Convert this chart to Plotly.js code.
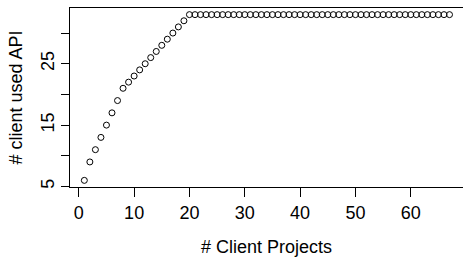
<!DOCTYPE html>
<html>
<head>
<meta charset="utf-8">
<script src="https://cdn.plot.ly/plotly-3.0.1.min.js"></script>
<style>html,body{margin:0;padding:0;background:#fff;}#chart{width:463px;height:260px;}</style>
</head>
<body>
<div id="chart"></div>
<script>
const clientProjects = [1,2,3,4,5,6,7,8,9,10,11,12,13,14,15,16,17,18,19,20,
  21,22,23,24,25,26,27,28,29,30,31,32,33,34,35,36,37,38,39,40,
  41,42,43,44,45,46,47,48,49,50,51,52,53,54,55,56,57,58,59,60,
  61,62,63,64,65,66,67];
const clientsUsedAPI = [6,9,11,13,15,17,19,21,22,23,24,25,26,27,28,29,30,31,32,33,
  33,33,33,33,33,33,33,33,33,33,33,33,33,33,33,33,33,33,33,33,
  33,33,33,33,33,33,33,33,33,33,33,33,33,33,33,33,33,33,33,33,
  33,33,33,33,33,33,33];
const xTickVals = [0,10,20,30,40,50,60];
const xTickText = ['0','10','20','30','40','50','60'];
const yTickVals = [5,10,15,20,25,30];
const yTickText = ['5','','15','','25',''];

const font = {family: 'Liberation Sans, Arial, Helvetica, sans-serif', size: 18, color: '#000'};

Plotly.newPlot('chart', [{
  x: clientProjects,
  y: clientsUsedAPI,
  type: 'scatter',
  mode: 'markers',
  marker: {symbol: 'circle-open', size: 6, color: '#000', line: {width: 1, color: '#000'}},
  hoverinfo: 'none'
}], {
  width: 463, height: 260,
  margin: {l: 69.5, r: 0, t: 8, b: 73, pad: 0},
  paper_bgcolor: '#fff', plot_bgcolor: '#fff',
  showlegend: false,
  font: font,
  xaxis: {
    range: [-1.59, 69.44], showgrid: false, zeroline: false,
    showline: true, mirror: true, linecolor: '#000', linewidth: 1,
    ticks: 'outside', ticklen: 9, tickwidth: 1, tickcolor: '#000',
    tickvals: xTickVals, ticktext: xTickText, tickfont: font,
    title: {text: '# Client Projects', font: font, standoff: 18}
  },
  yaxis: {
    range: [4.92, 34.08], showgrid: false, zeroline: false,
    showline: true, mirror: false, linecolor: '#000', linewidth: 1,
    ticks: 'outside', ticklen: 8, tickwidth: 1, tickcolor: '#000',
    tickvals: yTickVals, ticktext: yTickText, tickfont: font, tickangle: -90,
    title: {text: '# client used API', font: font, standoff: 10}
  }
}, {displayModeBar: false, staticPlot: true});
</script>
</body>
</html>
